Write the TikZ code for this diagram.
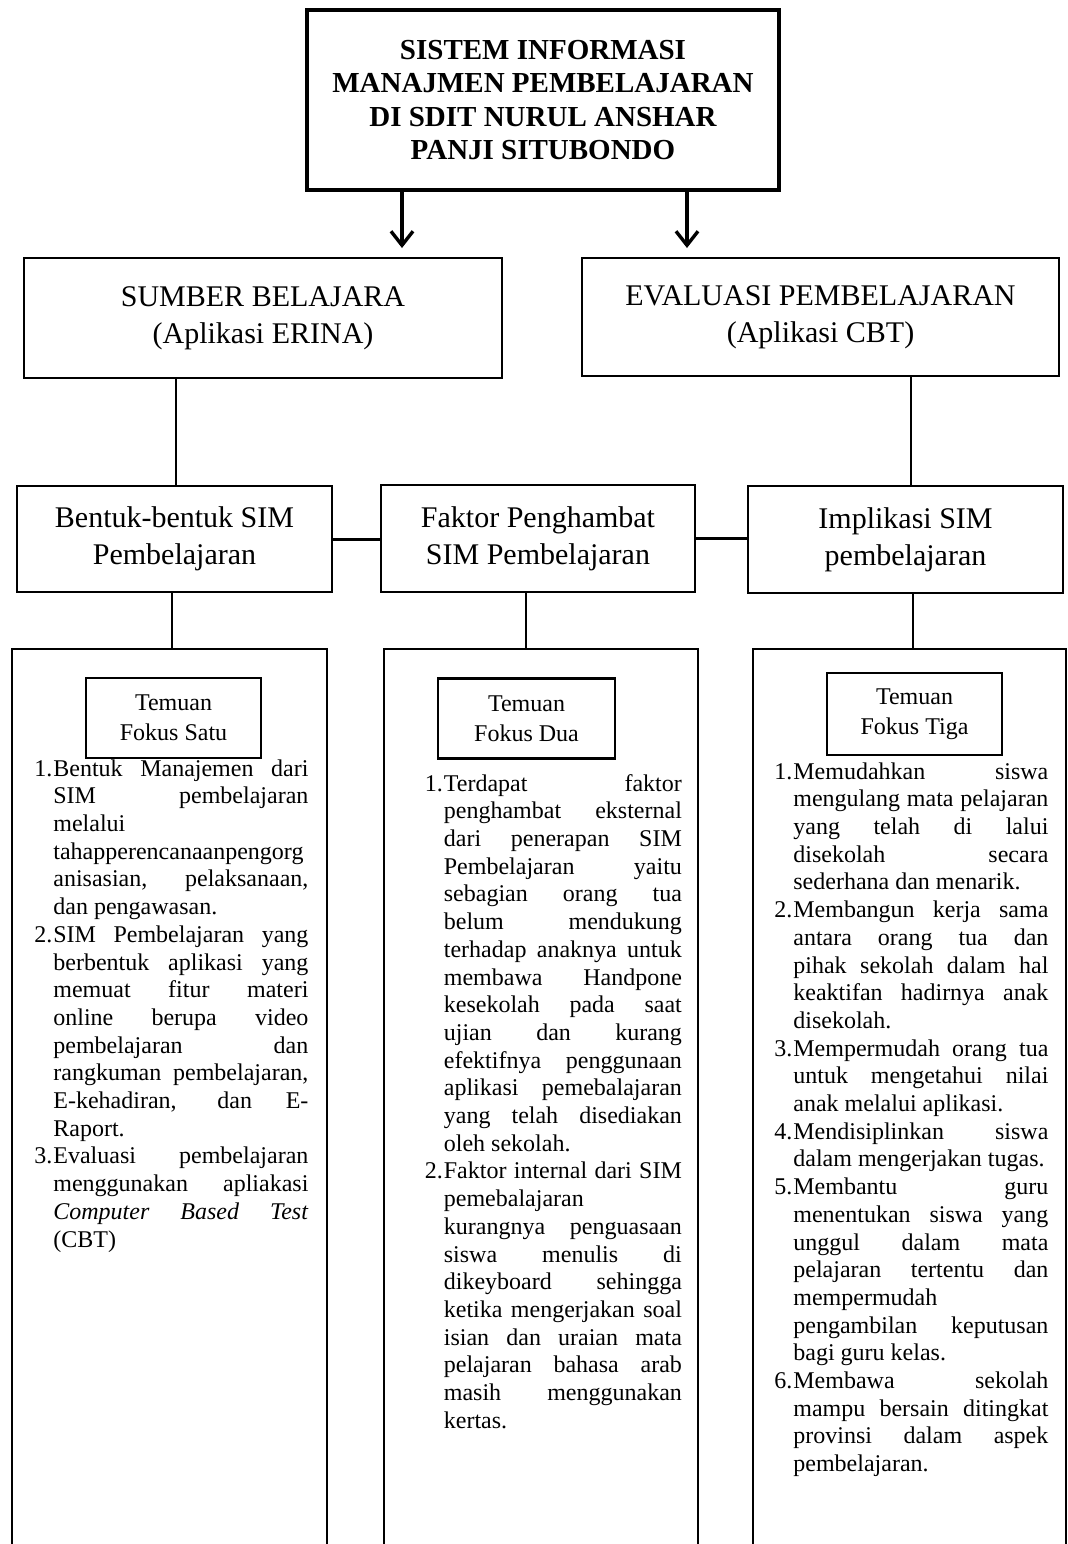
\documentclass[tikz,border=0pt]{standalone}
\usepackage{fontspec}
\setmainfont{Liberation Serif}
\usetikzlibrary{arrows.meta}
\newcommand{\butir}[2]{\par\noindent\hangindent=9.5pt\hangafter=1\makebox[9.5pt][l]{#1}#2\par}

\begin{document}
\begin{tikzpicture}[x=0.5pt,y=-0.5pt,
  kotak/.style={draw,line width=1.2pt,inner sep=0pt,align=center,font=\fontsize{15}{18.5}\selectfont},
  kolom/.style={draw,line width=1.3pt,inner sep=0pt,minimum height=460.5pt},
  temuan/.style={draw,line width=1.3pt,inner sep=0pt,align=center,minimum width=87.5pt,minimum height=40pt,font=\fontsize{12}{15}\selectfont},
  daftar/.style={anchor=north west,inner sep=0pt,align=justify,font=\fontsize{12}{13.85}\selectfont,
    execute at begin node={\tolerance=10000\hbadness=10000\hyphenpenalty=10000\exhyphenpenalty=10000}},
  panah/.style={line width=1.7pt,-{Straight Barb[length=7pt,width=11pt]}},
  garis/.style={line width=1pt},
  garis tebal/.style={line width=1.5pt}]
\useasboundingbox (0,0) rectangle (1068,1544);
\clip (0,0) rectangle (1068,1544);

\node[draw,line width=1.7pt,inner sep=0pt,align=center,minimum width=236pt,minimum height=90pt,
  font=\bfseries\fontsize{14.5}{16.8}\selectfont] (judul) at (543,100)
  {SISTEM INFORMASI\\MANAJMEN PEMBELAJARAN\\DI SDIT NURUL ANSHAR\\PANJI SITUBONDO};

\node[kotak,minimum width=239pt,minimum height=60pt] (sumber) at (263,318) {SUMBER BELAJARA\\(Aplikasi ERINA)};
\node[kotak,minimum width=238.5pt,minimum height=59pt] (evaluasi) at (820.5,317) {EVALUASI PEMBELAJARAN\\(Aplikasi CBT)};

\node[kotak,minimum width=157.5pt,minimum height=53pt] (bentuk) at (174.5,539) {Bentuk-bentuk SIM\\Pembelajaran};
\node[kotak,minimum width=157pt,minimum height=53.5pt] (faktor) at (538,538.5) {Faktor Penghambat\\SIM Pembelajaran};
\node[kotak,minimum width=157.5pt,minimum height=53.5pt] (implikasi) at (905.5,539.5) {Implikasi SIM\\pembelajaran};

\node[kolom,minimum width=157.5pt] (kolom1) at (169.5,1109.5) {};
\node[kolom,minimum width=157pt] (kolom2) at (541,1109.5) {};
\node[kolom,minimum width=156.5pt] (kolom3) at (909.5,1109.5) {};

\node[temuan] (temuan1) at (173.5,718) {Temuan\\Fokus Satu};
\node[temuan,minimum width=88.5pt] (temuan2) at (526.5,718.5) {Temuan\\Fokus Dua};
\node[temuan,minimum height=41pt] (temuan3) at (914.5,714) {Temuan\\Fokus Tiga};

\node[daftar,text width=137pt] (isi1) at (34,748) {%
\butir{1.}{Bentuk Manajemen dari\linebreak SIM pembelajaran\linebreak melalui\linebreak
tahapperencanaanpengorg\linebreak anisasian, pelaksanaan,\linebreak dan pengawasan.}
\butir{2.}{SIM Pembelajaran yang\linebreak berbentuk aplikasi yang\linebreak memuat fitur materi\linebreak
online berupa video\linebreak pembelajaran dan\linebreak rangkuman pembelajaran,\linebreak
E-kehadiran, dan E-\linebreak Raport.}
\butir{3.}{Evaluasi pembelajaran\linebreak menggunakan apliakasi\linebreak
\textit{Computer Based Test}\linebreak (CBT)}};

\node[daftar,text width=128.5pt] (isi2) at (424.5,763) {%
\butir{1.}{Terdapat faktor\linebreak penghambat eksternal\linebreak dari penerapan SIM\linebreak
Pembelajaran yaitu\linebreak sebagian orang tua\linebreak belum mendukung\linebreak
terhadap anaknya untuk\linebreak membawa Handpone\linebreak kesekolah pada saat\linebreak
ujian dan kurang\linebreak efektifnya penggunaan\linebreak aplikasi pemebalajaran\linebreak
yang telah disediakan\linebreak oleh sekolah.}
\butir{2.}{Faktor internal dari SIM\linebreak pemebalajaran\linebreak kurangnya penguasaan\linebreak
siswa menulis di\linebreak dikeyboard sehingga\linebreak ketika mengerjakan soal\linebreak
isian dan uraian mata\linebreak pelajaran bahasa arab\linebreak masih menggunakan\linebreak kertas.}};

\node[daftar,text width=137pt] (isi3) at (774,751) {%
\butir{1.}{Memudahkan siswa\linebreak mengulang mata pelajaran\linebreak yang telah di lalui\linebreak
disekolah secara\linebreak sederhana dan menarik.}
\butir{2.}{Membangun kerja sama\linebreak antara orang tua dan\linebreak pihak sekolah dalam hal\linebreak
keaktifan hadirnya anak\linebreak disekolah.}
\butir{3.}{Mempermudah orang tua\linebreak untuk mengetahui nilai\linebreak anak melalui aplikasi.}
\butir{4.}{Mendisiplinkan siswa\linebreak dalam mengerjakan tugas.}
\butir{5.}{Membantu guru\linebreak menentukan siswa yang\linebreak unggul dalam mata\linebreak
pelajaran tertentu dan\linebreak mempermudah\linebreak pengambilan keputusan\linebreak bagi guru kelas.}
\butir{6.}{Membawa sekolah\linebreak mampu bersain ditingkat\linebreak provinsi dalam aspek\linebreak
pembelajaran.}};

\coordinate (p1) at (402,248);
\coordinate (p2) at (687,248);
\draw[panah] (judul.south -| p1) -- (p1);
\draw[panah] (judul.south -| p2) -- (p2);

\coordinate (g1) at (176,0);
\coordinate (g2) at (911,0);
\coordinate (g3) at (172,0);
\coordinate (g4) at (526,0);
\coordinate (g5) at (913,0);
\draw[garis] (sumber.south -| g1) -- (bentuk.north -| g1);
\draw[garis] (evaluasi.south -| g2) -- (implikasi.north -| g2);
\draw[garis tebal] (bentuk.east) -- (bentuk.east -| faktor.west);
\draw[garis tebal] (faktor.east) -- (faktor.east -| implikasi.west);
\draw[garis] (bentuk.south -| g3) -- (kolom1.north -| g3);
\draw[garis] (faktor.south -| g4) -- (kolom2.north -| g4);
\draw[garis] (implikasi.south -| g5) -- (kolom3.north -| g5);
\end{tikzpicture}
\end{document}
